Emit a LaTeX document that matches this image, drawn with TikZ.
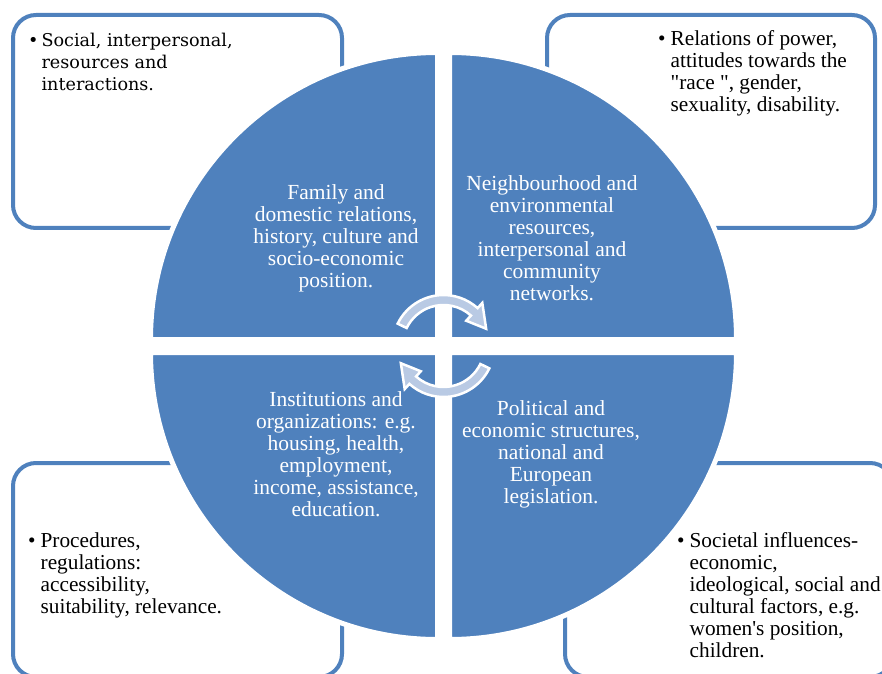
\documentclass[tikz,border=0pt]{standalone}
\usepackage{fontspec}
\setmainfont{Liberation Serif}[Ligatures=TeXOff]
\newfontfamily\notefont{DejaVu Serif}[Ligatures=TeXOff]
\usetikzlibrary{positioning}
\definecolor{quadblue}{RGB}{79,129,189}
\definecolor{cycblue}{RGB}{185,202,228}
\tikzstyle{quad}=[fill=quadblue,draw=white,line width=5pt,line join=round]
\tikzstyle{frame}=[draw=quadblue,line width=4pt,rounded corners=23pt]
\tikzstyle{cyc}=[fill=cycblue,draw=white,line width=2.5pt,line join=miter]
\tikzstyle{lbl}=[white,align=center,inner sep=0pt,font=\fontsize{21.5}{22}\selectfont]
\tikzstyle{note}=[black,anchor=north west,inner sep=0pt,font=\fontsize{21.3}{22}\selectfont]

\begin{document}
\begin{tikzpicture}[x=1pt,y=1pt]
  \useasboundingbox (0,0) rectangle (882,673);
  \clip (0,0) rectangle (882,673);
  % outer boxes
  \foreach \xa/\ya/\xb/\yb/\n in {13/658/342/445/f1, 547/658/875/445/f2, 13/210/342/-4/f3, 565/210/893/-4/f4}
    \draw[frame] (\xa,\ya) rectangle (\xb,\yb) coordinate (\n);
  % quadrants of the circle
  \foreach \cx/\cy/\a/\n in {437.5/333.5/90/q1, 449.5/333.5/0/q2, 437.5/320.5/180/q3, 449.5/320.5/270/q4} {
    \coordinate (\n) at (\cx,\cy);
    \draw[quad] (\n) -- ++(\a:287) arc[start angle=\a, end angle=\a+90, radius=287] -- cycle;
  }
  % circular arrows in the middle
  \coordinate (hub) at (443.5,327);
  \foreach \rot in {0,180} {
    \begin{scope}[shift={(hub)},rotate=\rot]
      \draw[cyc] (154:51) arc[start angle=154, end angle=48, radius=51] -- (48:58) -- (22:46)
        -- (48:34) -- (48:41) arc[start angle=48, end angle=154, radius=41] -- cycle;
    \end{scope}
  }
  % texts of the quadrants
  \node[lbl] (fam) at (336,435) {Family and\\domestic relations,\\history, culture and\\socio-economic\\position.};
  \node[lbl] (nbh) at (552,435) {Neighbourhood and\\environmental\\resources,\\interpersonal and\\community\\networks.};
  \node[lbl] (inst) at (336,219) {Institutions and\\organizations: e.g.\\housing, health,\\employment,\\income, assistance,\\education.};
  \node[lbl] (pol) at (551,219) {Political and\\economic structures,\\national and\\European\\legislation.};
  % texts of the boxes
  \node[note,font=\notefont\fontsize{17.6}{22}\selectfont] (soc) at (28,642) {\begin{tabular}{@{}l@{\hspace{3pt}}l@{}}%
    \textbullet & Social, interpersonal,\\ & resources and\\ & interactions.\end{tabular}};
  \node[note] (pow) at (658,643) {\begin{tabular}{@{}l@{\hspace{5pt}}l@{}}%
    \textbullet & Relations of power,\\ & attitudes towards the\\ & "race ", gender,\\ & sexuality, disability.\end{tabular}};
  \node[note] (proc) at (28,141) {\begin{tabular}{@{}l@{\hspace{5pt}}l@{}}%
    \textbullet & Procedures,\\ & regulations:\\ & accessibility,\\ & suitability, relevance.\end{tabular}};
  \node[note] (socl) at (677,141) {\begin{tabular}{@{}l@{\hspace{5pt}}l@{}}%
    \textbullet & Societal influences-\\ & economic,\\ & ideological, social and\\ & cultural factors, e.g.\\ & women's position,\\ & children.\end{tabular}};
\end{tikzpicture}
\end{document}
